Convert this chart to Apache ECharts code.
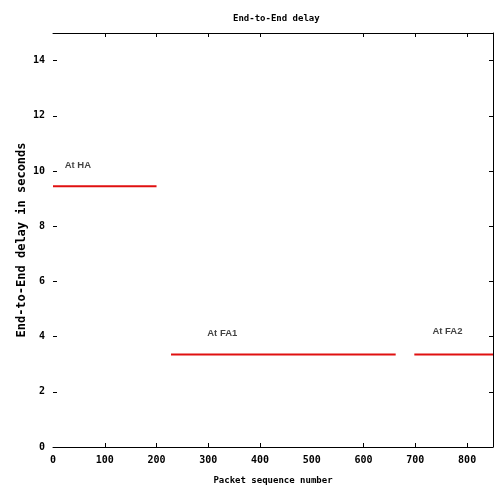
<!DOCTYPE html>
<html>
<head>
<meta charset="utf-8">
<script src="https://cdn.jsdelivr.net/npm/echarts@6/dist/echarts.min.js"></script>
<style>
  html, body { margin: 0; padding: 0; background: #fff; }
  #chart { width: 497px; height: 494px; }
</style>
</head>
<body>
<div id="chart"></div>
<script>
// delay segments (packet seq range -> delay in seconds)
const segmentNames = ['At HA', 'At FA1', 'At FA2'];
const segmentStart = [0, 228, 698];
const segmentEnd = [200, 662, 850];
const segmentDelay = [9.45, 3.35, 3.35];
// where the text labels sit (centre of text)
const labelX = [48, 327, 762];
const labelY = [10.2, 4.1, 4.2];
// ticks
const xTicks = [0, 100, 200, 300, 400, 500, 600, 700, 800];
const xTickMarks = [100, 200, 300, 400, 600, 700, 800];
const yTicks = [0, 2, 4, 6, 8, 10, 12, 14];

const mono = 'DejaVu Sans Mono';
const myChart = echarts.init(document.getElementById('chart'));

const series = segmentNames.map((name, i) => ({
  name: name,
  type: 'line',
  xAxisIndex: 0,
  yAxisIndex: 0,
  symbol: 'none',
  lineStyle: { color: '#e01010', width: 2 },
  data: [[segmentStart[i], segmentDelay[i]], [segmentEnd[i], segmentDelay[i]]]
}));

series.push({
  type: 'scatter',
  symbolSize: 0,
  silent: true,
  label: {
    show: true,
    position: 'inside',
    formatter: p => p.data[2],
    color: '#111',
    fontFamily: 'Liberation Sans',
    fontSize: 9.5,
    fontWeight: 'bold'
  },
  data: segmentNames.map((n, i) => [labelX[i], labelY[i], n])
});

const tickStyle = { inside: true, length: 4, lineStyle: { color: '#000' } };
const tickFont = { fontFamily: mono, fontSize: 10, fontWeight: 'bold', color: '#000' };

const option = {
  animation: false,
  title: {
    text: 'End-to-End delay',
    left: 228,
    top: 9,
    textStyle: { fontFamily: mono, fontSize: 9, fontWeight: 'bold', color: '#000' }
  },
  grid: { left: 53, right: 4, top: 33, bottom: 47 },
  xAxis: [
    {
      type: 'value',
      position: 'bottom',
      min: 0,
      max: 850,
      interval: 100,
      name: 'Packet sequence number',
      nameLocation: 'middle',
      nameGap: 29,
      nameMoveOverlap: false,
      nameTextStyle: { fontFamily: mono, fontSize: 9, fontWeight: 'bold', color: '#000' },
      axisLine: { show: true, lineStyle: { color: '#000', width: 1 } },
      axisTick: Object.assign({ customValues: xTickMarks }, tickStyle),
      axisLabel: Object.assign({ customValues: xTicks, margin: 8 }, tickFont),
      splitLine: { show: false }
    },
    {
      type: 'value',
      position: 'top',
      min: 0,
      max: 850,
      interval: 100,
      axisLine: { show: true, onZero: false, lineStyle: { color: '#000', width: 1 } },
      axisTick: Object.assign({ customValues: xTickMarks }, tickStyle),
      axisLabel: { show: false },
      splitLine: { show: false }
    }
  ],
  yAxis: [
    {
      type: 'value',
      position: 'left',
      min: 0,
      max: 15,
      interval: 1,
      name: 'End-to-End delay in seconds',
      nameLocation: 'middle',
      nameGap: 25,
      nameMoveOverlap: false,
      nameTextStyle: { fontFamily: mono, fontSize: 12, fontWeight: 'bold', color: '#000' },
      axisLine: { show: false },
      axisTick: Object.assign({ show: true, customValues: yTicks }, tickStyle),
      axisLabel: Object.assign({ customValues: yTicks, margin: 8 }, tickFont),
      splitLine: { show: false }
    },
    {
      type: 'value',
      position: 'right',
      min: 0,
      max: 15,
      interval: 1,
      axisLine: { show: true, onZero: false, lineStyle: { color: '#000', width: 1 } },
      axisTick: Object.assign({ show: true, customValues: yTicks }, tickStyle),
      axisLabel: { show: false },
      splitLine: { show: false }
    }
  ],
  series: series
};

myChart.setOption(option);
</script>
</body>
</html>
